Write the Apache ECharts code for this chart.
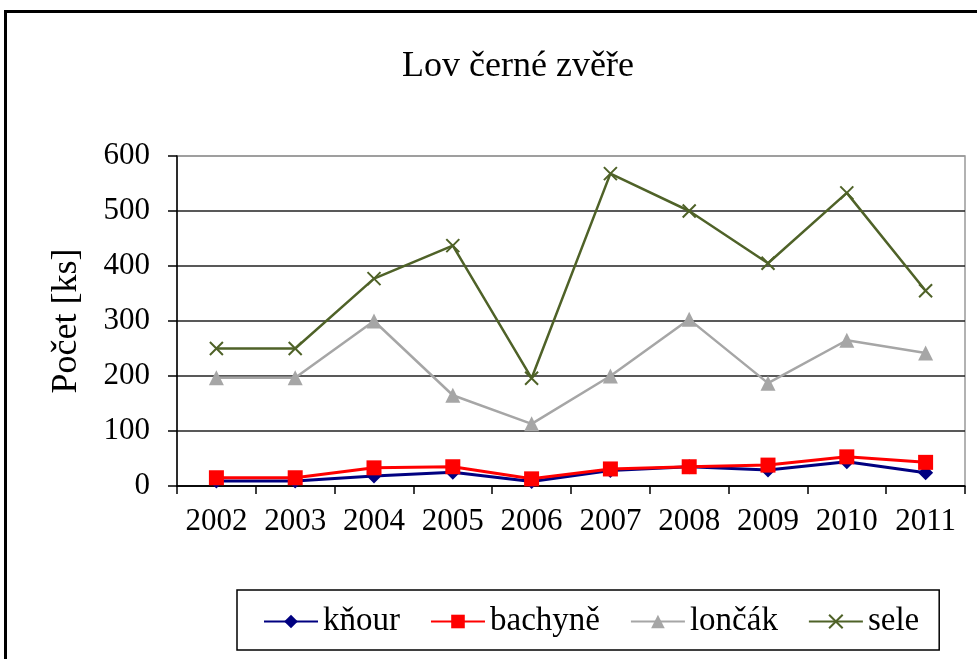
<!DOCTYPE html>
<html>
<head>
<meta charset="utf-8">
<script src="https://cdn.jsdelivr.net/npm/echarts@6/dist/echarts.min.js"></script>
<style>
  html, body { margin: 0; padding: 0; background: #fff; }
  #frame { position: absolute; left: 4px; top: 10px; width: 990px; height: 700px;
    border-left: 3px solid #000; border-top: 3px solid #000; }
  #chart { position: absolute; left: 0; top: 0; width: 977px; height: 659px; }
</style>
</head>
<body>
<div id="frame"></div>
<div id="chart"></div>
<script>
// roky a hodnoty
const years = ["2002", "2003", "2004", "2005", "2006", "2007", "2008", "2009", "2010", "2011"];
const knour = [9, 9, 18, 25, 8, 28, 35, 29, 44, 24];
const bachyne = [15, 15, 33, 35, 13, 31, 35, 38, 53, 43];
const loncak = [197, 197, 300, 165, 113, 200, 303, 187, 265, 242];
const sele = [250, 250, 377, 437, 196, 568, 500, 405, 533, 355];
const yTicks = [0, 100, 200, 300, 400, 500, 600];

const font = "'Liberation Serif', 'Times New Roman', serif";
const cross = "path://M0,0L10,10M10,0L0,10";

const chart = echarts.init(document.getElementById("chart"));

function line(name, data, color, symbol, size, width) {
  return {
    name: name,
    type: "line",
    data: data,
    symbol: symbol,
    symbolSize: size,
    lineStyle: { color: color, width: width },
    itemStyle: symbol === cross
      ? { color: color, borderColor: color, borderWidth: 2 }
      : { color: color },
    emphasis: { disabled: true },
    animation: false
  };
}

chart.setOption({
  backgroundColor: "transparent",
  title: {
    text: "Lov černé zvěře",
    left: 513,
    top: 44,
    textAlign: "center",
    textStyle: { fontFamily: font, fontSize: 36, fontWeight: "normal", color: "#000" }
  },
  legend: {
    left: 237,
    top: 590,
    padding: [15, 20, 12, 26],
    borderColor: "#000",
    borderWidth: 1.5,
    itemWidth: 54,
    itemHeight: 17,
    itemGap: 30,
    textStyle: { fontFamily: font, fontSize: 33, color: "#000" },
    data: ["kňour", "bachyně", "lončák", "sele"]
  },
  grid: {
    left: 177, right: 12, top: 156, bottom: 173,
    show: true, borderColor: "#999", borderWidth: 1.5
  },
  xAxis: {
    type: "category",
    data: years,
    boundaryGap: true,
    axisLine: { lineStyle: { color: "#000", width: 1.5 } },
    axisTick: { show: true, length: 8, lineStyle: { color: "#000", width: 1.5 } },
    axisLabel: { interval: 0, fontFamily: font, fontSize: 31, color: "#000", margin: 20 }
  },
  yAxis: {
    type: "value",
    min: 0,
    max: 600,
    interval: 100,
    name: "Počet [ks]",
    nameLocation: "middle",
    nameRotate: 90,
    nameGap: 92,
    nameTextStyle: { fontFamily: font, fontSize: 36, color: "#000" },
    axisLine: { show: true, lineStyle: { color: "#000", width: 1.5 } },
    axisTick: { show: true, length: 9, lineStyle: { color: "#000", width: 1.5 } },
    axisLabel: { fontFamily: font, fontSize: 31, color: "#000", margin: 27,
      formatter: function (v) { return yTicks.indexOf(v) >= 0 ? String(v) : ""; } },
    splitLine: { lineStyle: { color: ["#000", "#222", "#222", "#222", "#222", "#222", "#999"], width: 1.5 } }
  },
  series: [
    line("kňour", knour, "#000080", "diamond", 15, 3),
    line("bachyně", bachyne, "#ff0000", "rect", 15, 3),
    line("lončák", loncak, "#a6a6a6", "triangle", 15, 2.5),
    line("sele", sele, "#4f6228", cross, 13, 2.5)
  ]
});
</script>
</body>
</html>
